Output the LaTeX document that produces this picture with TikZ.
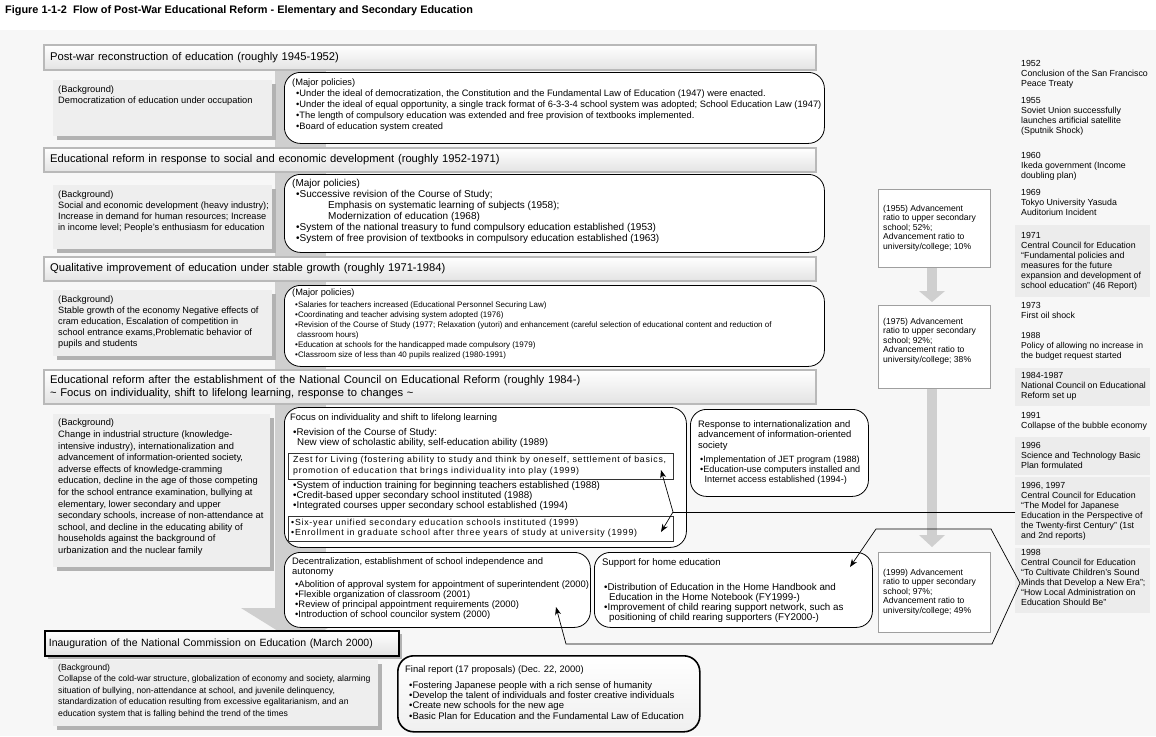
\documentclass[tikz,border=0pt]{standalone}
\usepackage{fontspec}
\setmainfont{Liberation Sans}
\newfontfamily\zestfont{Liberation Sans}[LetterSpace=8.5]
\usetikzlibrary{arrows.meta,shadows}
\newcommand\ftTitle{\fontsize{10.9}{12}\selectfont\bfseries}
\newcommand\ftHead{\fontsize{11.2}{13}\selectfont}
\newcommand\ftBody{\fontsize{9.2}{11}\selectfont}
\newcommand\ftTen{\fontsize{9.8}{10}\selectfont}
\newcommand\ftSmall{\fontsize{8}{10}\selectfont}
\newcommand\ftLine{\fontsize{8.8}{10}\selectfont}
\newcommand\ftAdv{\fontsize{8.6}{9.5}\selectfont}
\newcommand\ftZest{\fontsize{8.8}{10.5}\selectfont\zestfont}
\begin{document}
\begin{tikzpicture}[x=1pt,y=-1pt,
  hdr/.style={draw=gray!55, line width=2.2pt, top color=white, bottom color=gray!22, anchor=north west, inner xsep=6pt, align=left, font=\ftHead},
  bgbox/.style={fill=gray!13, anchor=north west, inner sep=0pt, drop shadow={shadow xshift=4pt, shadow yshift=-4pt, fill=gray!60, opacity=1}},
  polbox/.style={draw=black, line width=0.8pt, fill=white, rounded corners=16pt, anchor=north west, inner sep=0pt},
  advbox/.style={draw=gray!75, line width=1.2pt, fill=white, anchor=north west, inner sep=0pt},
  inbox/.style={draw=black!80, line width=0.6pt, fill=white, anchor=north west, inner sep=0pt},
  tlblock/.style={fill=gray!15, anchor=north west, inner sep=0pt},
  txt/.style={anchor=north west, inner sep=0pt, align=left},
  band/.style={fill=gray!38},
  conn/.style={draw=black, line width=0.7pt},
  both/.style={{Stealth[length=8pt,width=6pt]}-{Stealth[length=8pt,width=6pt]}}
]
\useasboundingbox (0,0) rectangle (1156,736);
\fill[white] (0,0) rectangle (1156,736);
\fill[gray!6] (0,30) rectangle (1156,736);

% title
\node[anchor=west, inner sep=0pt, font=\ftTitle] (title) at (5,11) {Figure 1-1-2\ \ Flow of Post-War Educational Reform - Elementary and Secondary Education};

% main band with arrow head
\fill[band] (275,60) rectangle (326,610);
\fill[band] (241,608) -- (360,608) -- (300.5,645) -- cycle;

% ---------- period 1
\node[hdr, minimum width=772pt, minimum height=25pt, text width=760pt] (hdA) at (43,44) {Post-war reconstruction of education (roughly 1945-1952)};
\node[bgbox, minimum width=219pt, minimum height=56pt] (b1) at (53,80) {};
\node[txt, font=\fontsize{9.3}{11}\selectfont] (b1t) at (58,86) {(Background)\\Democratization of education under occupation};
\node[polbox, minimum width=540pt, minimum height=71pt] (p1) at (284,72) {};
\node[txt, font=\fontsize{9.3}{11}\selectfont] (p1t) at (292,79) {(Major policies)\\
\hspace*{4pt}•Under the ideal of democratization, the Constitution and the Fundamental Law of Education (1947) were enacted.\\
\hspace*{4pt}•Under the ideal of equal opportunity, a single track format of 6-3-3-4 school system was adopted; School Education Law (1947)\\
\hspace*{4pt}•The length of compulsory education was extended and free provision of textbooks implemented.\\
\hspace*{4pt}•Board of education system created};

% ---------- period 2
\node[hdr, minimum width=772pt, minimum height=24pt, text width=760pt] (hdB) at (43,147) {Educational reform in response to social and economic development (roughly 1952-1971)};
\node[bgbox, minimum width=219pt, minimum height=64pt] (b2) at (53,185) {};
\node[txt, font=\ftBody] (b2t) at (58,191) {(Background)\\Social and economic development (heavy industry);\\Increase in demand for human resources; Increase\\in income level; People's enthusiasm for education};
\node[polbox, minimum width=540pt, minimum height=78pt] (p2) at (284,174) {};
\node[txt, font=\fontsize{10}{11}\selectfont] (p2t) at (292,179) {(Major policies)\\
\hspace*{4pt}•Successive revision of the Course of Study;\\
\hspace*{36pt}Emphasis on systematic learning of subjects (1958);\\
\hspace*{36pt}Modernization of education (1968)\\
\hspace*{4pt}•System of the national treasury to fund compulsory education established (1953)\\
\hspace*{4pt}•System of free provision of textbooks in compulsory education established (1963)};

% ---------- period 3
\node[hdr, minimum width=772pt, minimum height=24pt, text width=760pt] (hdC) at (43,256) {Qualitative improvement of education under stable growth (roughly 1971-1984)};
\node[bgbox, minimum width=219pt, minimum height=66pt] (b3) at (53,290) {};
\node[txt, font=\ftBody] (b3t) at (58,296) {(Background)\\Stable growth of the economy Negative effects of\\cram education, Escalation of competition in\\school entrance exams,Problematic behavior of\\pupils and students};
\node[polbox, minimum width=540pt, minimum height=81pt] (p3) at (284,285) {};
\node[txt, font=\ftBody] (p3t) at (292,289) {(Major policies)};
\node[txt, font=\ftSmall] (p3b) at (295,301) {•Salaries for teachers increased (Educational Personnel Securing Law)\\
•Coordinating and teacher advising system adopted (1976)\\
•Revision of the Course of Study (1977; Relaxation (yutori) and enhancement (careful selection of educational content and reduction of\\
\hspace*{2pt}classroom hours)\\
•Education at schools for the handicapped made compulsory (1979)\\
•Classroom size of less than 40 pupils realized (1980-1991)};

% ---------- period 4
\node[hdr, minimum width=772pt, minimum height=34pt, text width=760pt] (hdD) at (43,369) {Educational reform after the establishment of the National Council on Educational Reform (roughly 1984-)\\\textasciitilde{} Focus on individuality, shift to lifelong learning, response to changes \textasciitilde};
\node[bgbox, minimum width=217pt, minimum height=153pt] (b4) at (53,414) {};
\node[txt, font=\fontsize{9.3}{11.6}\selectfont] (b4t) at (58,419) {(Background)\\Change in industrial structure (knowledge-\\intensive industry), internationalization and\\advancement of information-oriented society,\\adverse effects of knowledge-cramming\\education, decline in the age of those competing\\for the school entrance examination, bullying at\\elementary, lower secondary and upper\\secondary schools, increase of non-attendance at\\school, and decline in the educating ability of\\households against the background of\\urbanization and the nuclear family};

\node[polbox, minimum width=402pt, minimum height=140pt] (focus) at (284,407) {};
\node[txt, font=\fontsize{9.4}{11}\selectfont] (fo1) at (290,413) {Focus on individuality and shift to lifelong learning};
\node[txt, font=\ftTen] (fo2) at (293,428) {•Revision of the Course of Study:\\\hspace*{4pt}New view of scholastic ability, self-education ability (1989)};
\node[inbox, minimum width=385pt, minimum height=26pt] (zest) at (288,453) {};
\node[txt, font=\ftZest] (zestt) at (293,456) {Zest for Living (fostering ability to study and think by oneself, settlement of basics,\\promotion of education that brings individuality into play (1999)};
\node[txt, font=\ftTen] (fo3) at (293,481) {•System of induction training for beginning teachers established (1988)\\•Credit-based upper secondary school instituted (1988)\\•Integrated courses upper secondary school established (1994)};
\node[inbox, minimum width=385pt, minimum height=25pt] (six) at (288,516) {};
\node[txt, font=\fontsize{8.8}{10}\selectfont\zestfont] (sixt) at (291,519) {•Six-year unified secondary education schools instituted (1999)\\•Enrollment in graduate school after three years of study at university (1999)};

\node[polbox, minimum width=178pt, minimum height=87pt] (resp) at (690,409) {};
\node[txt, font=\fontsize{9.4}{10.5}\selectfont] (respt) at (698,420) {Response to internationalization and\\advancement of information-oriented\\society};
\node[txt, font=\fontsize{9.1}{10}\selectfont] (respb) at (700,456) {•Implementation of JET program (1988)\\•Education-use computers installed and\\\hspace*{4.5pt}Internet access established (1994-)};

\node[polbox, minimum width=306pt, minimum height=75pt] (dec) at (284,552) {};
\node[txt, font=\fontsize{9.4}{10.5}\selectfont] (dect) at (292,557) {Decentralization, establishment of school independence and\\autonomy};
\node[txt, font=\fontsize{9.4}{10}\selectfont] (decb) at (295,580) {•Abolition of approval system for appointment of superintendent (2000)\\•Flexible organization of classroom (2001)\\•Review of principal appointment requirements (2000)\\•Introduction of school councilor system (2000)};

\node[polbox, minimum width=278pt, minimum height=75pt] (sup) at (594,552) {};
\node[txt, font=\fontsize{9.6}{11}\selectfont] (supt) at (602,558) {Support for home education};
\node[txt, font=\fontsize{9.8}{10}\selectfont] (supb) at (604,583) {•Distribution of Education in the Home Handbook and\\\hspace*{5pt}Education in the Home Notebook (FY1999-)\\•Improvement of child rearing support network, such as\\\hspace*{5pt}positioning of child rearing supporters (FY2000-)};

% ---------- advancement ratios
\node[advbox, minimum width=112pt, minimum height=78pt] (adv1) at (878,189) {};
\node[txt, font=\ftAdv] (adv1t) at (883,205) {(1955) Advancement\\ratio to upper secondary\\school; 52\%;\\Advancement ratio to\\university/college; 10\%};
\node[advbox, minimum width=112pt, minimum height=83pt] (adv2) at (878,305) {};
\node[txt, font=\ftAdv] (adv2t) at (883,318) {(1975) Advancement\\ratio to upper secondary\\school; 92\%;\\Advancement ratio to\\university/college; 38\%};
\node[advbox, minimum width=112pt, minimum height=80pt] (adv3) at (878,552) {};
\node[txt, font=\ftAdv] (adv3t) at (883,569) {(1999) Advancement\\ratio to upper secondary\\school; 97\%;\\Advancement ratio to\\university/college; 49\%};
\fill[band] (927,268) rectangle (937,291);
\fill[band] (919,291) -- (945,291) -- (932,302) -- cycle;
\fill[band] (927,389) rectangle (937,536);
\fill[band] (919,535) -- (945,535) -- (932,547) -- cycle;

% ---------- 2000
\node[hdr, draw=black, line width=1.8pt, font=\fontsize{10.5}{12}\selectfont, inner xsep=4pt, minimum width=354pt, minimum height=25pt, text width=346pt, drop shadow={shadow xshift=3pt, shadow yshift=-3pt, fill=gray!60, opacity=1}] (hdE) at (44,630) {Inauguration of the National Commission on Education (March 2000)};
\node[bgbox, minimum width=325pt, minimum height=66pt] (b5) at (53,660) {};
\node[txt, font=\fontsize{8.65}{11.5}\selectfont] (b5t) at (58,664) {(Background)\\Collapse of the cold-war structure, globalization of economy and society, alarming\\situation of bullying, non-attendance at school, and juvenile delinquency,\\standardization of education resulting from excessive egalitarianism, and an\\education system that is falling behind the trend of the times};
\node[polbox, line width=1.6pt, top color=white, bottom color=gray!12, minimum width=302pt, minimum height=76pt] (final) at (397,655) {};
\node[txt, font=\fontsize{9.4}{11}\selectfont] (finalt) at (405,665) {Final report (17 proposals) (Dec. 22, 2000)};
\node[txt, font=\fontsize{9.5}{10.4}\selectfont] (finalb) at (409,681) {•Fostering Japanese people with a rich sense of humanity\\•Develop the talent of individuals and foster creative individuals\\•Create new schools for the new age\\•Basic Plan for Education and the Fundamental Law of Education};

% ---------- timeline
\node[tlblock, minimum width=135pt, minimum height=72pt] (tb5) at (1015,225) {};
\node[tlblock, minimum width=135pt, minimum height=38pt] (tb8) at (1015,368) {};
\node[tlblock, minimum width=135pt, minimum height=38pt] (tb10) at (1015,437) {};
\node[tlblock, minimum width=135pt, minimum height=68pt] (tb11) at (1015,477) {};
\node[tlblock, minimum width=135pt, minimum height=65pt] (tb12) at (1015,548) {};
\node[txt, font=\ftLine] (tl1) at (1021,60.5) {1952\\Conclusion of the San Francisco\\Peace Treaty};
\node[txt, font=\ftLine] (tl2) at (1021,97.5) {1955\\Soviet Union successfully\\launches artificial satellite\\(Sputnik Shock)};
\node[txt, font=\ftLine] (tl3) at (1021,152.5) {1960\\Ikeda government (Income\\doubling plan)};
\node[txt, font=\ftLine] (tl4) at (1021,189.5) {1969\\Tokyo University Yasuda\\Auditorium Incident};
\node[txt, font=\ftLine] (tl5) at (1021,232.5) {1971\\Central Council for Education\\“Fundamental policies and\\measures for the future\\expansion and development of\\school education” (46 Report)};
\node[txt, font=\ftLine] (tl6) at (1021,302.5) {1973\\First oil shock};
\node[txt, font=\fontsize{8.6}{10}\selectfont] (tl7) at (1021,332.5) {1988\\Policy of allowing no increase in\\the budget request started};
\node[txt, font=\ftLine] (tl8) at (1021,372.5) {1984-1987\\National Council on Educational\\Reform set up};
\node[txt, font=\ftLine] (tl9) at (1021,412.5) {1991\\Collapse of the bubble economy};
\node[txt, font=\ftLine] (tl10) at (1021,442.5) {1996\\Science and Technology Basic\\Plan formulated};
\node[txt, font=\ftLine] (tl11) at (1021,482.5) {1996, 1997\\Central Council for Education\\“The Model for Japanese\\Education in the Perspective of\\the Twenty-first Century” (1st\\and 2nd reports)};
\node[txt, font=\ftLine] (tl12) at (1021,549.5) {1998\\Central Council for Education\\“To Cultivate Children’s Sound\\Minds that Develop a New Era”;\\“How Local Administration on\\Education Should Be”};

% ---------- connectors
\coordinate (jn) at (673,512);
\coordinate (zestTip) at (661,470);
\coordinate (sixTip) at (661,532);
\draw[conn] (tb11.west |- jn) -- (jn);
\draw[conn, both] (zestTip) -- (jn) -- (sixTip);
\coordinate (hx1) at (876,529);
\coordinate (hx2) at (991,529);
\coordinate (hx3) at (1020,583);
\coordinate (hx4) at (992,644);
\coordinate (hx5) at (566,644);
\coordinate (supTip) at (850,567);
\coordinate (decTip) at (556,607);
\draw[conn, both] (supTip) -- (hx1) -- (hx2) -- (hx3) -- (hx4) -- (hx5) -- (decTip);
\end{tikzpicture}
\end{document}
